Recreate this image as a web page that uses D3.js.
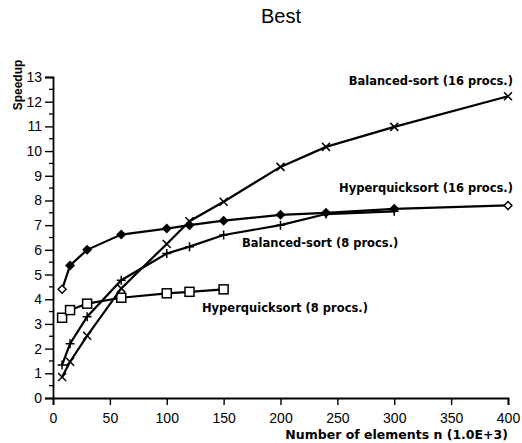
<!DOCTYPE html>
<html>
<head>
<meta charset="utf-8">
<script src="https://cdn.jsdelivr.net/npm/d3@7/dist/d3.min.js"></script>
<style>
  body { margin: 0; background: #fff; }
  svg { display: block; font-family: "Liberation Sans", Arial, sans-serif; }
</style>
</head>
<body>
<svg id="chart" width="522" height="443"></svg>
<script>
// values (n in thousands, speedup)
var balanced16_n = [8, 15, 30, 60, 100, 120, 150, 200, 240, 300, 400];
var balanced16_s = [0.85, 1.47, 2.52, 4.44, 6.24, 7.16, 7.95, 9.36, 10.17, 10.98, 12.22];

var hyper16_n = [8, 15, 30, 60, 100, 120, 150, 200, 240, 300, 400];
var hyper16_s = [4.40, 5.37, 6.0, 6.62, 6.86, 7.0, 7.18, 7.42, 7.5, 7.66, 7.8];

var balanced8_n = [8, 15, 30, 60, 100, 120, 150, 200, 240, 300];
var balanced8_s = [1.34, 2.2, 3.29, 4.77, 5.85, 6.13, 6.6, 7.0, 7.45, 7.56];

var hyper8_n = [8, 15, 30, 60, 100, 120, 150];
var hyper8_s = [3.25, 3.56, 3.82, 4.06, 4.24, 4.3, 4.4];

var xTicks = [0, 50, 100, 150, 200, 250, 300, 350, 400];
var yTicks = d3.range(0, 14);

var labelFont = "'DejaVu Sans', Verdana, sans-serif";

var svg = d3.select("#chart");

var x = d3.scaleLinear().domain([0, 400]).range([53, 508]);
var y = d3.scaleLinear().domain([0, 13]).range([398, 77]);

////////////////////////////  AXES  ////////////////////////////
var xAxis = d3.axisBottom(x).tickValues(xTicks).tickSize(7).tickPadding(8);
var gx = svg.append("g").attr("transform", "translate(0,398)").call(xAxis);

var yAxis = d3.axisLeft(y).tickValues(yTicks).tickSize(8).tickPadding(3);
var gy = svg.append("g").attr("transform", "translate(53,0)").call(yAxis);

// half-unit minor ticks on y
svg.append("g").selectAll("line")
  .data(d3.range(0.5, 13, 1))
  .enter().append("line")
  .attr("x1", 49).attr("x2", 53)
  .attr("y1", function(d) { return y(d); })
  .attr("y2", function(d) { return y(d); })
  .attr("stroke", "#000").attr("stroke-width", 1.3);

[gx, gy].forEach(function(g) {
  g.select(".domain").attr("stroke", "#000").attr("stroke-width", 1.8);
  g.selectAll(".tick line").attr("stroke", "#000").attr("stroke-width", 1.4);
  g.selectAll(".tick text")
    .attr("fill", "#000")
    .attr("font-size", 14)
    .attr("font-family", "'Liberation Sans', Arial, sans-serif");
});

svg.append("text")
  .attr("x", 281).attr("y", 23)
  .attr("text-anchor", "middle")
  .attr("font-size", 20)
  .text("Best");

svg.append("text")
  .attr("transform", "translate(22,85) rotate(-90)")
  .attr("text-anchor", "middle")
  .attr("font-size", 12).attr("font-weight", "bold")
  .text("Speedup");

svg.append("text")
  .attr("x", 508).attr("y", 439)
  .attr("text-anchor", "end")
  .attr("font-family", labelFont)
  .attr("font-size", 12.5).attr("font-weight", "bold")
  .text("Number of elements n (1.0E+3)");

////////////////////////////  SERIES  ////////////////////////////
var line = d3.line()
  .x(function(d) { return x(d[0]); })
  .y(function(d) { return y(d[1]); });

function drawSeries(ns, ss, marker) {
  var pts = d3.zip(ns, ss);
  svg.append("path")
    .datum(pts)
    .attr("d", line)
    .attr("fill", "none")
    .attr("stroke", "#000")
    .attr("stroke-width", 2.2);

  var g = svg.append("g").selectAll("g")
    .data(pts).enter().append("g")
    .attr("transform", function(d) { return "translate(" + x(d[0]) + "," + y(d[1]) + ")"; });

  if (marker == "x") {
    g.append("path").attr("d", "M-4,-4L4,4M-4,4L4,-4")
      .attr("stroke", "#000").attr("stroke-width", 1.5);
  } else if (marker == "plus") {
    g.append("path").attr("d", "M-4.5,0L4.5,0M0,-4.5L0,4.5")
      .attr("stroke", "#000").attr("stroke-width", 1.5);
  } else if (marker == "square") {
    g.append("rect").attr("x", -4.5).attr("y", -4.5).attr("width", 9).attr("height", 9)
      .attr("fill", "#fff").attr("stroke", "#000").attr("stroke-width", 1.5);
  } else if (marker == "diamond") {
    g.append("path").attr("d", "M0,-4L4,0L0,4L-4,0Z")
      .attr("fill", function(d, i) { return (i == 0 || i == ns.length - 1) ? "#fff" : "#000"; })
      .attr("stroke", "#000").attr("stroke-width", 1.4);
  }
}

drawSeries(hyper8_n, hyper8_s, "square");
drawSeries(balanced8_n, balanced8_s, "plus");
drawSeries(hyper16_n, hyper16_s, "diamond");
drawSeries(balanced16_n, balanced16_s, "x");

////////////////////////////  SERIES LABELS  ////////////////////////////
var labels = [
  {text: "Balanced-sort (16 procs.)", x: 513, y: 85, anchor: "end"},
  {text: "Hyperquicksort (16 procs.)", x: 513, y: 192, anchor: "end"},
  {text: "Balanced-sort (8 procs.)", x: 242, y: 247, anchor: "start"},
  {text: "Hyperquicksort (8 procs.)", x: 202, y: 312, anchor: "start"}
];
svg.append("g").selectAll("text")
  .data(labels).enter().append("text")
  .attr("x", function(d) { return d.x; })
  .attr("y", function(d) { return d.y; })
  .attr("text-anchor", function(d) { return d.anchor; })
  .attr("font-family", labelFont)
  .attr("font-size", 11.5).attr("font-weight", "bold")
  .text(function(d) { return d.text; });
</script>
</body>
</html>
